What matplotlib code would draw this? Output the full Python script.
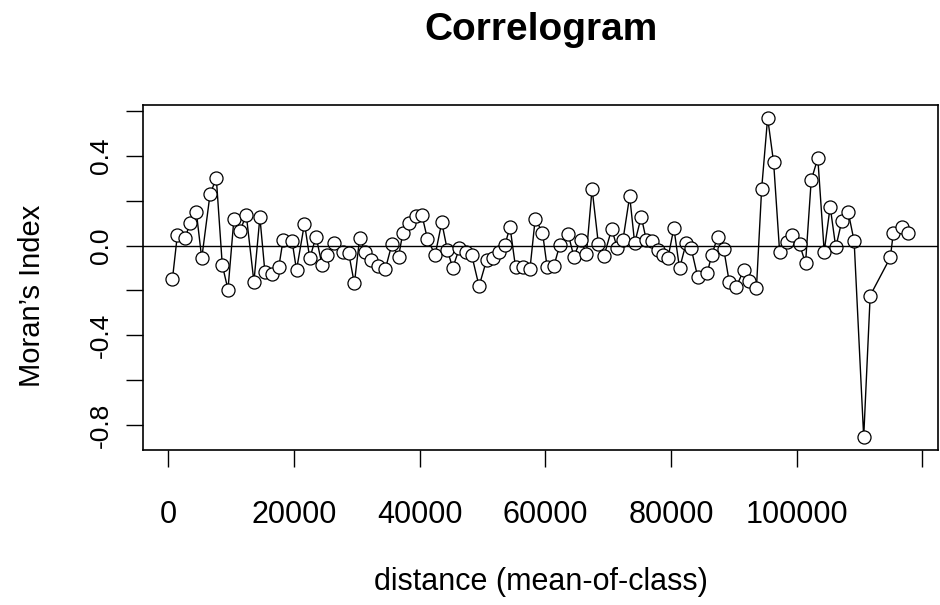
import numpy as np
import matplotlib
matplotlib.use("Agg")
import matplotlib.pyplot as plt

plt.rcParams['font.family'] = ['Liberation Sans', 'DejaVu Sans']

dist = [683, 1476, 2698, 3492, 4492, 5349, 6667, 7667, 8619, 9524,
        10476, 11429, 12429, 13651, 14603, 15397, 16556, 17619, 18302, 19730,
        20429, 21698, 22540, 23540, 24492, 25286, 26460, 27825, 28730, 29635,
        30476, 31381, 32270, 33381, 34556, 35603, 36667, 37349, 38254, 39413,
        40365, 41270, 42492, 43540, 44444, 45286, 46349, 47349, 48302, 49476,
        50683, 51635, 52651, 53603, 54397, 55286, 56508, 57571, 58413, 59571,
        60317, 61381, 62333, 63651, 64556, 65667, 66556, 67460, 68460, 69365,
        70587, 71476, 72381, 73444, 74238, 75286, 76079, 77032, 77937, 78730,
        79524, 80476, 81381, 82429, 83222, 84286, 85762, 86508, 87460, 88413,
        89286, 90397, 91587, 92492, 93619, 94444, 95397, 96349, 97302, 98492,
        99238, 100476, 101429, 102333, 103381, 104397, 105349, 106238, 107190, 108222,
        109159, 110683, 111714, 114921, 115397, 116746, 117810]
moran = [-0.150, 0.048, 0.033, 0.100, 0.148, -0.057, 0.228, 0.300, -0.087, -0.196,
         0.120, 0.063, 0.138, -0.162, 0.126, -0.117, -0.127, -0.094, 0.026, 0.018,
         -0.109, 0.098, -0.057, 0.040, -0.087, -0.042, 0.011, -0.027, -0.034, -0.169,
         0.033, -0.027, -0.064, -0.091, -0.106, 0.006, -0.049, 0.056, 0.100, 0.130,
         0.138, 0.029, -0.042, 0.103, -0.022, -0.099, -0.012, -0.027, -0.042, -0.181,
         -0.064, -0.057, -0.027, 0.003, 0.083, -0.097, -0.094, -0.106, 0.119, 0.058,
         -0.097, -0.091, 0.003, 0.053, -0.049, 0.026, -0.037, 0.253, 0.008, -0.046,
         0.074, -0.012, 0.026, 0.220, 0.011, 0.128, 0.026, 0.018, -0.019, -0.042,
         -0.057, 0.078, -0.102, 0.011, -0.012, -0.142, -0.124, -0.042, 0.040, -0.016,
         -0.162, -0.184, -0.110, -0.157, -0.188, 0.253, 0.569, 0.370, -0.027, 0.015,
         0.048, 0.005, -0.079, 0.291, 0.389, -0.027, 0.173, -0.008, 0.108, 0.149,
         0.020, -0.854, -0.223, -0.053, 0.056, 0.084, 0.056]

xticks = [0, 20000, 40000, 60000, 80000, 100000, 120000]
xlabels = ['0', '20000', '40000', '60000', '80000', '100000', '']
yticks = [-0.8, -0.6, -0.4, -0.2, 0.0, 0.2, 0.4, 0.6]
ylabels = ['-0.8', '', '-0.4', '', '0.0', '', '0.4', '']

fig = plt.figure(figsize=(9.4, 6.05), dpi=100)
ax = fig.add_axes([0.1521, 0.2562, 0.8457, 0.5702])

ax.plot(dist, moran, color='black', lw=1.0, marker='o', ms=9.4,
        mfc='white', mec='black', mew=0.9, zorder=2)
ax.axhline(0, color='black', lw=1.0, zorder=3)

# R style 4% padding
def rpad(v):
    lo, hi = min(v), max(v)
    p = 0.04 * (hi - lo)
    return lo - p, hi + p

ax.set_xlim(*rpad(dist))
ax.set_ylim(*rpad(moran))

ax.set_xticks(xticks)
ax.set_xticklabels(xlabels)
ax.set_yticks(yticks)
ax.set_yticklabels(ylabels)

ax.tick_params(axis='x', length=12, width=1, pad=24, labelsize=22)
ax.tick_params(axis='y', length=12.5, width=1, pad=9, labelsize=19)
for lab in ax.get_yticklabels():
    lab.set_rotation(90)
    lab.set_va('center')

for s in ax.spines.values():
    s.set_linewidth(1.2)

ax.set_xlabel('distance (mean-of-class)', fontsize=22)
ax.xaxis.set_label_coords(0.5, -0.34)
ax.set_ylabel('Moran\u2019s Index', fontsize=21)
ax.yaxis.set_label_coords(-0.122, 0.446)

fig.text(0.575, 0.95, 'Correlogram', ha='center', va='center',
         fontsize=28, fontweight='bold')

fig.savefig('out.png', dpi=100)
